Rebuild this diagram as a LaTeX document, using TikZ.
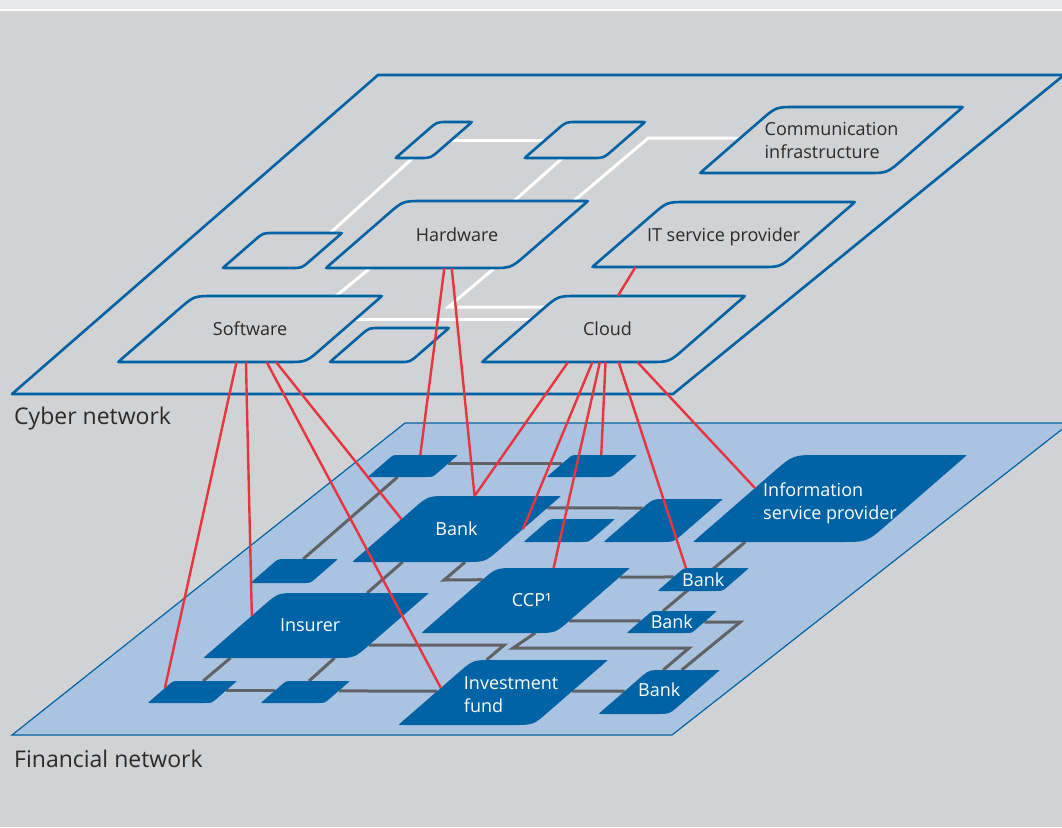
\documentclass[tikz,border=0pt]{standalone}
\usepackage{fontspec}
\setmainfont{Open Sans}
\usetikzlibrary{calc}

\definecolor{bggray}{RGB}{209,210,212}
\definecolor{topgray}{RGB}{230,231,233}
\definecolor{cblue}{RGB}{0,99,166}
\definecolor{fblue}{RGB}{170,195,224}
\definecolor{lgray}{RGB}{97,98,100}
\definecolor{cred}{RGB}{232,52,63}
\definecolor{txtdark}{RGB}{42,42,42}

\pgfdeclarelayer{back}
\pgfdeclarelayer{lines}
\pgfdeclarelayer{front}
\pgfsetlayers{back,lines,main,front}

\tikzset{
	cplate/.style={draw=cblue, fill=bggray, line width=2.6pt},
	fplate/.style={fill=cblue},
	ctext/.style={text=txtdark, inner sep=0pt, align=left, font=\fontsize{18}{23}\selectfont},
	ftext/.style={text=white, inner sep=0pt, align=left, font=\fontsize{18}{23}\selectfont},
	link/.style={draw=white, line width=3pt},
	flink/.style={draw=lgray, line width=3pt},
	wire/.style={draw=cred, line width=2.4pt},
	layername/.style={anchor=base west, inner sep=0pt, text=txtdark, font=\fontsize{23}{28}\selectfont}
}

% [node options], #2 layer (c/f), #3 name, #4 x, #5 y of top left corner, #6 top width, #7 height, #8 text
\newcommand{\plate}[8][]{%
	\pgfmathsetmacro{\pbx}{#4+#6}%
	\pgfmathsetmacro{\pcx}{#4+#6-1.15*#7}%
	\pgfmathsetmacro{\pdx}{#4-1.15*#7}%
	\pgfmathsetmacro{\pby}{#5+#7}%
	\pgfmathsetmacro{\pw}{#6+1.15*#7}%
	\pgfmathsetmacro{\rr}{0.3*#7}%
	\coordinate (#3-a) at (#4,#5);
	\coordinate (#3-b) at (\pbx,#5);
	\coordinate (#3-c) at (\pcx,\pby);
	\coordinate (#3-d) at (\pdx,\pby);
	\path[#2plate] ($(#3-a)!\rr pt!(#3-b)$) -- ($(#3-b)!3pt!(#3-a)$)
		.. controls (#3-b) .. ($(#3-b)!3pt!(#3-c)$) -- ($(#3-c)!\rr pt!(#3-b)$)
		.. controls (#3-c) .. ($(#3-c)!\rr pt!(#3-d)$) -- ($(#3-d)!3pt!(#3-c)$)
		.. controls (#3-d) .. ($(#3-d)!3pt!(#3-a)$) -- ($(#3-a)!\rr pt!(#3-d)$)
		.. controls (#3-a) .. ($(#3-a)!\rr pt!(#3-b)$) -- cycle;
	\node[#2text, minimum width=\pw pt, minimum height=#7 pt, #1] (#3) at ($(#3-a)!0.5!(#3-c)$) {#8};
}

\begin{document}
\begin{tikzpicture}[x=1pt, y=-1pt]
	\useasboundingbox (0,0) rectangle (1062,827);
	\begin{pgfonlayer}{back}
		\fill[bggray] (0,0) rectangle (1062,827);
		\fill[topgray] (0,0) rectangle (1062,9);
		\fill[white] (0,9) rectangle (1062,11);
		%Piani
		\draw[cblue, line width=2.6pt, line join=round] (378,75) -- (1064,75) -- (673,394) -- (12,394) -- cycle;
		\filldraw[fill=fblue, draw=cblue, line width=1.2pt] (405,423) -- (1070,423) -- (672,735) -- (12,735) -- cycle;
	\end{pgfonlayer}
	\node[layername] (cyblab) at (14,424) {Cyber network};
	\node[layername] (finlab) at (14,767) {Financial network};

	%Cyber network
	\plate{c}{cs1}{437}{122}{35}{36}{}
	\plate{c}{cs2}{566}{122}{79}{36}{}
	\plate{c}{comm}{776}{107}{187}{66}{Communication\\infrastructure}
	\plate{c}{cs3}{263}{233}{79}{35}{}
	\plate{c}{hw}{403}{201}{185}{67}{Hardware}
	\plate[yshift=-2pt]{c}{itsp}{667}{202}{188}{65}{IT service provider}
	\plate{c}{sw}{194}{296}{188}{66}{Software}
	\plate{c}{cs4}{369}{328}{80}{34}{}
	\plate[xshift=-6pt]{c}{cl}{558}{296}{187}{66}{Cloud}

	%Financial network
	\plate{f}{ft1}{393}{455}{65}{22}{}
	\plate{f}{ft2}{572}{455}{65}{22}{}
	\plate{f}{bank}{428}{496}{133}{66}{Bank}
	\plate{f}{fm}{550}{519}{65}{23}{}
	\plate{f}{fq}{653}{499}{70}{43}{}
	\plate[yshift=-5pt]{f}{info}{793}{455}{174}{87}{Information\\service provider}
	\plate{f}{fl}{278}{559}{60}{24}{}
	\plate[xshift=-6pt]{f}{ins}{278}{593}{151}{65}{Insurer}
	\plate[xshift=6pt]{f}{ccp}{496}{568}{134}{65}{CCP¹}
	\plate{f}{bk1}{684}{568}{65}{23}{Bank}
	\plate{f}{bk2}{652}{611}{65}{22}{Bank}
	\plate[yshift=2pt]{f}{bk3}{649}{670}{71}{44}{Bank}
	\plate[xshift=8pt, yshift=-2pt]{f}{inv}{473}{660}{135}{65}{Investment\\fund}
	\plate{f}{fs1}{173}{681}{64}{22}{}
	\plate{f}{fs2}{286}{681}{64}{22}{}

	\begin{pgfonlayer}{lines}
		%collegamenti cyber
		\draw[link] ($(cs1-b)!0.5!(cs1-c)$) -- ($(cs2-a)!0.5!(cs2-d)$);
		\draw[link] ($(cs1-d)!0.49!(cs1-c)$) -- ($(cs3-a)!0.85!(cs3-b)$);
		\draw[link] ($(cs2-d)!0.48!(cs2-c)$) -- ($(hw-a)!0.6!(hw-b)$);
		\draw[link] ($(comm-a)!0.47!(comm-d)$) -- ++(-92,0) -- ++(-200,169) -- ($(cl-a)!0.17!(cl-d)$);
		\draw[link] ($(sw-b)!0.36!(sw-c)$) -- ($(cl-a)!0.36!(cl-d)$);
		\draw[link] ($(hw-d)!0.24!(hw-c)$) -- ($(sw-a)!0.755!(sw-b)$);
		%collegamenti finanziari
		\draw[flink] ($(ft1-b)!0.4!(ft1-c)$) -- ($(ft2-a)!0.4!(ft2-d)$);
		\draw[flink] ($(ft1-d)!0.46!(ft1-c)$) -- ($(fl-a)!0.42!(fl-b)$);
		\draw[flink] ($(bank-d)!0.38!(bank-c)$) -- ($(ins-a)!0.59!(ins-b)$);
		\draw[flink] ($(bank-d)!0.85!(bank-c)$) -- ++(-21,18) -- ($(ccp-a)!0.18!(ccp-d)$);
		\draw[flink] ($(bank-b)!0.18!(bank-c)$) -- ($(fq-a)!0.21!(fq-d)$);
		\draw[flink] ($(ccp-b)!0.14!(ccp-c)$) -- ($(bk1-a)!0.39!(bk1-d)$);
		\draw[flink] ($(ccp-b)!0.815!(ccp-c)$) -- ($(bk2-a)!0.45!(bk2-d)$);
		\draw[flink] ($(info-d)!0.3!(info-c)$) -- ($(bk2-a)!0.17!(bk2-b)$);
		\draw[flink] ($(bk2-b)!0.5!(bk2-c)$) -- ++(36,0) -- ($(bk3-a)!0.46!(bk3-b)$);
		\draw[flink] ($(ccp-d)!0.85!(ccp-c)$) -- ++(-22,15) -- ++(176,0) -- ($(bk3-a)!0.2!(bk3-b)$);
		\draw[flink] ($(ins-b)!0.8!(ins-c)$) -- ++(135,0) -- ($(inv-a)!0.1!(inv-b)$);
		\draw[flink] ($(ins-d)!0.18!(ins-c)$) -- ($(fs1-a)!0.47!(fs1-b)$);
		\draw[flink] ($(ins-d)!0.87!(ins-c)$) -- ($(fs2-a)!0.36!(fs2-b)$);
		\draw[flink] ($(fs1-b)!0.45!(fs1-c)$) -- ($(fs2-a)!0.45!(fs2-d)$);
		\draw[flink] ($(fs2-b)!0.45!(fs2-c)$) -- ($(inv-a)!0.48!(inv-d)$);
		\draw[flink] ($(inv-b)!0.48!(inv-c)$) -- ($(bk3-a)!0.48!(bk3-d)$);
	\end{pgfonlayer}

	\begin{pgfonlayer}{front}
		%legami tra le reti
		\draw[wire] ($(sw-d)!0.63!(sw-c)$) -- ($(fs1-a)!0.32!(fs1-d)$);
		\draw[wire] ($(sw-d)!0.68!(sw-c)$) -- ($(ins-a)!0.35!(ins-d)$);
		\draw[wire] ($(sw-d)!0.79!(sw-c)$) -- ($(inv-a)!0.43!(inv-d)$);
		\draw[wire] ($(sw-d)!0.84!(sw-c)$) -- ($(bank-a)!0.35!(bank-d)$);
		\draw[wire] ($(hw-d)!0.64!(hw-c)$) -- ($(ft1-a)!0.42!(ft1-b)$);
		\draw[wire] ($(hw-d)!0.68!(hw-c)$) -- ($(bank-a)!0.35!(bank-b)$);
		\draw[wire] ($(itsp-d)!0.23!(itsp-c)$) -- ($(cl-a)!0.32!(cl-b)$);
		\draw[wire] ($(cl-d)!0.46!(cl-c)$) -- ($(bank-a)!0.35!(bank-b)$);
		\draw[wire] ($(cl-d)!0.59!(cl-c)$) -- ($(bank-b)!0.5!(bank-c)$);
		\draw[wire] ($(cl-d)!0.63!(cl-c)$) -- ($(ccp-a)!0.43!(ccp-b)$);
		\draw[wire] ($(cl-d)!0.66!(cl-c)$) -- ($(ft2-a)!0.45!(ft2-b)$);
		\draw[wire] ($(cl-d)!0.73!(cl-c)$) -- ($(bk1-a)!0.03!(bk1-b)$);
		\draw[wire] ($(cl-d)!0.83!(cl-c)$) -- ($(info-a)!0.38!(info-d)$);
	\end{pgfonlayer}
\end{tikzpicture}
\end{document}
